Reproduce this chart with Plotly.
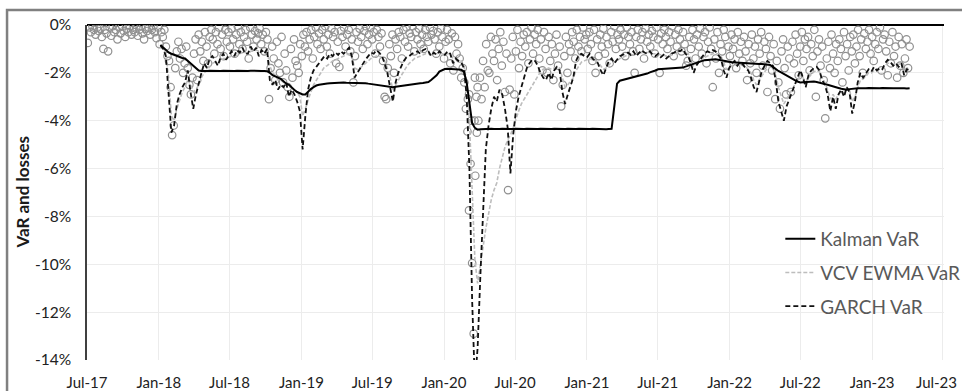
import pandas as pd
import plotly.graph_objects as go

# ---------------- data ----------------
var_start = "2018-01-05"          # weekly VaR series start
loss_start = "2017-07-03"         # daily-loss sample start (every 4 days)

kalman_var = [
 -0.83,-0.95,-1.05,-1.15,-1.2,-1.25,-1.3,-1.35,-1.38,-1.4,
 -1.5,-1.6,-1.72,-1.82,-1.9,-1.92,-1.93,-1.92,-1.91,-1.92,
 -1.93,-1.92,-1.92,-1.91,-1.92,-1.93,-1.92,-1.92,-1.91,-1.92,
 -1.93,-1.92,-1.92,-1.91,-1.92,-1.93,-1.92,-1.92,-1.92,-1.93,
 -2.0,-2.1,-2.15,-2.2,-2.25,-2.35,-2.45,-2.5,-2.62,-2.72,
 -2.8,-2.85,-2.9,-2.9,-2.78,-2.68,-2.6,-2.53,-2.5,-2.47,
 -2.45,-2.44,-2.43,-2.42,-2.41,-2.4,-2.4,-2.4,-2.41,-2.41,
 -2.42,-2.43,-2.43,-2.42,-2.42,-2.43,-2.45,-2.47,-2.48,-2.5,
 -2.52,-2.54,-2.56,-2.58,-2.6,-2.6,-2.58,-2.56,-2.55,-2.53,
 -2.52,-2.5,-2.48,-2.46,-2.45,-2.43,-2.42,-2.4,-2.38,-2.3,
 -2.2,-2.1,-1.95,-1.88,-1.84,-1.83,-1.83,-1.84,-1.85,-1.86,
 -1.87,-1.95,-2.4,-3.3,-4.1,-4.3,-4.38,-4.36,-4.35,-4.36,
 -4.35,-4.34,-4.35,-4.36,-4.35,-4.34,-4.35,-4.36,-4.35,-4.35,
 -4.34,-4.35,-4.36,-4.35,-4.34,-4.35,-4.35,-4.36,-4.35,-4.34,
 -4.35,-4.36,-4.35,-4.35,-4.34,-4.35,-4.36,-4.35,-4.35,-4.34,
 -4.35,-4.36,-4.35,-4.34,-4.35,-4.35,-4.36,-4.35,-4.34,-4.35,
 -4.36,-4.35,-4.35,-4.36,-4.35,-4.34,-3.4,-2.45,-2.33,-2.3,
 -2.26,-2.24,-2.21,-2.19,-2.17,-2.14,-2.11,-2.08,-2.03,-1.98,
 -1.95,-1.9,-1.85,-1.84,-1.83,-1.83,-1.82,-1.82,-1.81,-1.8,
 -1.8,-1.78,-1.74,-1.7,-1.66,-1.62,-1.57,-1.53,-1.5,-1.47,
 -1.46,-1.44,-1.43,-1.43,-1.45,-1.48,-1.5,-1.52,-1.54,-1.56,
 -1.57,-1.57,-1.58,-1.59,-1.6,-1.6,-1.61,-1.62,-1.62,-1.63,
 -1.63,-1.64,-1.66,-1.67,-1.75,-1.85,-1.92,-1.98,-2.05,-2.12,
 -2.18,-2.25,-2.3,-2.36,-2.4,-2.39,-2.38,-2.37,-2.36,-2.36,
 -2.38,-2.4,-2.43,-2.47,-2.5,-2.54,-2.57,-2.6,-2.63,-2.66,
 -2.68,-2.7,-2.68,-2.66,-2.65,-2.64,-2.64,-2.65,-2.64,-2.63,
 -2.64,-2.64,-2.65,-2.64,-2.63,-2.64,-2.64,-2.65,-2.64,-2.64,
 -2.63,-2.64,-2.64,-2.65,-2.64]

ewma_var = [
 -0.9,-1.0,-1.2,-2.2,-3.8,-4.0,-3.5,-3.1,-2.8,-2.6,
 -2.3,-2.5,-2.8,-2.7,-2.5,-2.2,-2.0,-1.9,-1.75,-1.6,
 -1.55,-1.6,-1.5,-1.4,-1.4,-1.35,-1.3,-1.3,-1.25,-1.2,
 -1.15,-1.15,-1.2,-1.1,-1.1,-1.05,-1.1,-1.1,-1.1,-1.05,
 -1.7,-2.0,-2.1,-2.3,-2.3,-2.4,-2.4,-2.6,-2.6,-2.7,
 -2.8,-3.0,-3.8,-3.5,-3.1,-2.8,-2.5,-2.3,-2.1,-1.9,
 -1.75,-1.7,-1.6,-1.5,-1.45,-1.4,-1.35,-1.3,-1.25,-1.2,
 -1.3,-1.8,-1.85,-1.8,-1.7,-1.6,-1.5,-1.4,-1.35,-1.3,
 -1.3,-1.35,-1.5,-1.8,-2.2,-2.7,-2.5,-2.3,-2.1,-1.9,
 -1.75,-1.6,-1.5,-1.4,-1.35,-1.3,-1.25,-1.2,-1.2,-1.25,
 -1.2,-1.2,-1.2,-1.2,-1.2,-1.2,-1.2,-1.4,-1.4,-1.45,
 -1.5,-1.7,-2.4,-4.0,-7.0,-9.8,-10.8,-10.0,-9.2,-8.5,
 -7.9,-7.3,-6.9,-6.6,-6.0,-5.5,-5.1,-4.8,-4.6,-4.3,
 -3.9,-3.6,-3.3,-3.1,-2.9,-2.75,-2.55,-2.3,-2.1,-1.95,
 -1.85,-1.8,-1.8,-1.85,-1.8,-1.75,-1.8,-2.2,-2.6,-2.5,
 -2.35,-2.2,-1.9,-1.7,-1.55,-1.5,-1.45,-1.4,-1.45,-1.5,
 -1.55,-1.7,-1.85,-1.8,-1.65,-1.55,-1.55,-1.5,-1.4,-1.35,
 -1.3,-1.25,-1.25,-1.2,-1.2,-1.2,-1.15,-1.15,-1.15,-1.15,
 -1.2,-1.2,-1.2,-1.25,-1.25,-1.3,-1.3,-1.25,-1.2,-1.15,
 -1.1,-1.1,-1.15,-1.2,-1.4,-1.7,-1.65,-1.55,-1.45,-1.35,
 -1.3,-1.25,-1.2,-1.2,-1.2,-1.3,-1.6,-1.85,-1.8,-1.7,
 -1.65,-1.7,-1.65,-1.7,-1.75,-1.85,-2.0,-2.3,-2.5,-2.3,
 -2.1,-1.95,-1.8,-1.75,-1.8,-2.1,-2.6,-3.0,-3.3,-3.1,
 -2.9,-2.7,-2.5,-2.3,-2.1,-2.2,-2.4,-2.2,-2.05,-1.95,
 -1.9,-1.95,-2.2,-2.4,-2.7,-3.1,-2.9,-3.1,-2.9,-2.75,
 -2.85,-2.65,-2.7,-3.2,-3.0,-2.6,-2.3,-2.25,-2.15,-2.0,
 -2.0,-1.9,-1.9,-1.85,-1.85,-1.7,-1.6,-1.6,-1.65,-1.6,
 -1.65,-1.6,-1.85,-1.8,-1.8]

garch_var = [
 -0.85,-1.0,-1.3,-2.8,-4.5,-4.2,-3.3,-2.9,-2.6,-2.4,
 -1.9,-2.8,-3.5,-2.9,-2.4,-2.0,-1.6,-1.8,-1.4,-1.3,
 -1.5,-1.7,-1.35,-1.2,-1.45,-1.25,-1.1,-1.3,-1.05,-1.15,
 -0.95,-1.2,-1.2,-0.9,-1.1,-0.95,-1.3,-1.05,-1.2,-1.0,
 -2.3,-2.5,-2.3,-2.7,-2.5,-2.6,-2.4,-3.0,-2.7,-2.9,
 -3.2,-3.6,-5.2,-3.8,-2.7,-2.2,-1.9,-1.75,-1.6,-1.45,
 -1.3,-1.4,-1.2,-1.3,-1.15,-1.25,-1.1,-1.2,-1.05,-0.95,
 -1.3,-2.2,-2.0,-1.8,-1.6,-1.45,-1.3,-1.15,-1.2,-1.05,
 -1.15,-1.3,-1.6,-2.0,-2.6,-3.2,-2.4,-2.0,-1.75,-1.5,
 -1.35,-1.3,-1.2,-1.15,-1.1,-1.2,-1.05,-1.0,-1.1,-1.3,
 -1.15,-1.25,-1.1,-1.2,-1.25,-1.1,-1.2,-1.6,-1.4,-1.5,
 -1.55,-1.8,-3.0,-6.0,-11.5,-15.0,-13.5,-10.5,-7.8,-5.2,
 -4.2,-3.5,-3.0,-3.2,-2.7,-2.9,-3.5,-4.3,-6.2,-4.6,
 -3.6,-3.0,-2.6,-2.2,-1.8,-1.6,-1.45,-1.5,-1.7,-2.0,
 -2.2,-2.3,-2.0,-2.3,-1.9,-1.75,-1.9,-2.8,-3.3,-2.9,
 -2.5,-2.2,-1.5,-1.25,-1.2,-1.3,-1.35,-1.2,-1.4,-1.5,
 -1.6,-1.9,-2.1,-1.8,-1.5,-1.4,-1.6,-1.45,-1.3,-1.25,
 -1.2,-1.15,-1.25,-1.1,-1.3,-1.15,-1.05,-1.15,-1.2,-1.1,
 -1.25,-1.3,-1.2,-1.35,-1.25,-1.4,-1.3,-1.2,-1.15,-1.05,
 -1.1,-1.0,-1.2,-1.3,-1.6,-2.0,-1.7,-1.5,-1.35,-1.2,
 -1.1,-1.15,-1.05,-1.1,-1.25,-1.4,-1.9,-2.2,-1.8,-1.6,
 -1.5,-1.7,-1.55,-1.65,-1.8,-1.9,-2.2,-2.6,-2.8,-2.3,
 -1.9,-1.7,-1.5,-1.6,-1.7,-2.3,-3.2,-3.6,-4.0,-3.4,
 -3.1,-2.8,-2.5,-2.2,-1.9,-2.2,-2.6,-2.1,-1.9,-1.8,
 -1.75,-1.9,-2.3,-2.5,-2.9,-3.6,-3.0,-3.5,-2.9,-2.7,
 -3.0,-2.6,-2.8,-3.7,-3.2,-2.4,-2.0,-2.2,-2.0,-1.85,
 -1.95,-1.75,-1.9,-1.8,-1.85,-1.6,-1.45,-1.55,-1.7,-1.6,
 -1.75,-1.6,-2.1,-1.85,-1.9]

daily_losses = [
 -0.75,-0.1,-0.3,-0.05,-0.2,-0.4,-0.1,-0.25,-0.15,-0.5,
 -1.0,-0.2,-0.35,-1.1,-0.1,-0.45,-0.05,-0.3,-0.2,-0.6,
 -0.1,-0.35,-0.05,-0.25,-0.5,-0.15,-0.3,-0.05,-0.4,-0.2,
 -0.3,-0.1,-0.45,-0.2,-0.05,-0.35,-0.6,-0.15,-0.25,-0.1,
 -0.4,-0.2,-0.05,-0.3,-0.55,-0.1,-0.8,-0.3,-0.5,-0.2,
 -0.9,-1.3,-1.5,-2.6,-4.6,-4.2,-1.8,-1.1,-0.7,-1.4,
 -1.0,-2.0,-1.6,-0.9,-1.8,-2.5,-2.9,-2.2,-1.2,-0.6,
 -2.3,-0.4,-1.1,-0.7,-1.5,-0.3,-0.9,-1.6,-0.5,-0.2,
 -0.6,-1.2,-0.3,-0.8,-0.1,-1.0,-0.4,-1.3,-0.2,-0.7,
 -0.3,-0.9,-0.15,-0.6,-1.2,-0.4,-0.05,-0.8,-0.3,-1.0,
 -0.5,-0.2,-0.7,-1.4,-0.1,-0.4,-0.9,-0.25,-0.6,-0.35,
 -0.15,-0.8,-0.4,-1.1,-0.3,-0.6,-3.1,-1.8,-0.9,-1.4,
 -2.3,-0.7,-1.6,-2.0,-0.5,-2.4,-1.2,-1.9,-2.6,-3.0,
 -1.0,-2.2,-0.6,-1.5,-1.7,-2.0,-0.8,-1.3,-0.4,-0.9,
 -0.3,-1.1,-0.6,-0.2,-1.4,-0.5,-0.1,-0.8,-0.35,-1.0,
 -0.2,-0.6,-0.05,-0.9,-0.4,-1.2,-0.15,-0.5,-0.3,-1.6,
 -0.7,-1.75,-0.25,-0.5,-0.1,-0.9,-0.4,-0.2,-1.1,-0.6,
 -2.4,-1.3,-0.3,-0.7,-0.15,-0.5,-1.0,-0.25,-0.05,-0.8,
 -0.4,-0.1,-0.6,-0.3,-1.2,-0.2,-0.5,-0.9,-0.35,-1.5,
 -3.0,-3.1,-1.8,-0.8,-1.3,-0.4,-2.0,-0.6,-1.0,-0.3,
 -0.5,-1.4,-0.2,-0.7,-0.1,-0.9,-0.35,-0.5,-0.05,-1.1,
 -0.3,-0.6,-0.15,-0.8,-0.4,-1.0,-0.2,-0.5,-0.7,-0.1,
 -0.4,-0.25,-0.6,-1.2,-0.3,-0.9,-0.15,-0.5,-1.4,-0.7,
 -0.2,-0.6,-1.6,-0.35,-1.9,-0.5,-1.2,-0.8,-1.4,-2.2,
 -1.8,-2.4,-3.5,-4.45,-7.75,-5.8,-9.95,-12.9,-6.3,-4.5,
 -4.0,-2.2,-3.1,-1.5,-2.6,-0.8,-1.9,-2.0,-0.5,-1.2,
 -1.5,-0.6,-2.3,-1.0,-0.3,-1.7,-0.7,-2.8,-1.2,-6.9,
 -2.7,-1.4,-0.5,-2.9,-1.1,-0.2,-1.8,-0.7,-1.3,-0.4,
 -0.9,-0.3,-1.6,-0.6,-0.1,-1.2,-0.4,-0.8,-0.2,-1.4,
 -0.6,-1.9,-0.3,-1.0,-2.0,-0.5,-1.5,-0.8,-2.3,-1.2,
 -0.4,-1.7,-0.9,-3.4,-2.5,-1.3,-0.5,-2.0,-0.8,-1.1,
 -0.3,-0.7,-1.4,-0.2,-0.9,-0.5,-1.1,-0.1,-0.6,-0.4,
 -1.0,-0.3,-0.8,-1.5,-0.2,-2.0,-0.6,-1.3,-0.4,-0.9,
 -0.15,-1.2,-0.5,-0.8,-1.6,-0.3,-0.7,-0.05,-1.0,-0.4,
 -0.6,-0.2,-0.9,-0.4,-1.3,-0.1,-0.5,-0.8,-0.3,-1.1,
 -2.0,-0.5,-0.2,-1.0,-0.6,-0.3,-1.4,-0.15,-0.7,-0.4,
 -0.9,-0.25,-0.5,-1.2,-0.1,-0.6,-2.0,-0.35,-0.8,-0.2,
 -0.5,-1.0,-0.3,-0.7,-0.05,-1.3,-0.4,-0.9,-0.2,-0.6,
 -1.1,-0.3,-0.8,-1.7,-1.5,-0.5,-1.0,-0.2,-0.6,-1.4,
 -0.4,-0.9,-0.15,-1.2,-0.5,-0.3,-1.6,-0.7,-0.1,-1.0,
 -2.6,-0.6,-1.4,-0.3,-2.0,-0.8,-1.1,-0.2,-0.5,-1.7,
 -0.9,-1.3,-0.4,-1.0,-0.6,-1.8,-0.3,-1.2,-0.7,-1.5,
 -0.5,-1.1,-2.3,-0.8,-1.6,-0.4,-1.4,-0.9,-2.0,-0.6,
 -1.2,-0.3,-1.7,-0.7,-1.0,-2.8,-0.5,-1.3,-1.9,-0.8,
 -3.1,-1.5,-2.4,-3.5,-1.1,-0.6,-1.8,-2.9,-0.9,-1.4,
 -2.8,-0.7,-1.6,-0.4,-1.2,-2.1,-0.9,-0.3,-1.5,-0.6,
 -1.0,-0.5,-1.9,-0.8,-1.3,-0.2,-3.0,-1.1,-0.6,-1.7,
 -0.9,-2.3,-3.9,-1.4,-0.7,-1.8,-0.4,-1.2,-2.0,-0.8,
 -1.5,-0.6,-1.0,-2.4,-0.3,-1.3,-0.8,-1.9,-0.5,-1.1,
 -0.4,-1.6,-0.9,-0.2,-1.3,-0.6,-2.0,-0.35,-1.0,-0.7,
 -0.2,-1.2,-0.5,-1.5,-0.8,-0.3,-1.0,-0.1,-1.9,-0.6,
 -0.4,-1.1,-2.1,-0.7,-1.6,-0.3,-1.3,-0.9,-2.2,-0.5,
 -1.7,-0.8,-2.0,-1.4,-0.6,-1.8,-0.9]

extra_loss_dates = ["2020-03-02", "2020-03-05", "2020-03-11", "2020-03-19",
                    "2020-03-20", "2020-03-24", "2020-03-27"]
extra_loss_values = [-3.1, -2.9, -4.0, -4.0, -2.2, -3.0, -2.6]

x_tick_dates = ["2017-07-01", "2018-01-01", "2018-07-01", "2019-01-01",
                "2019-07-01", "2020-01-01", "2020-07-01", "2021-01-01",
                "2021-07-01", "2022-01-01", "2022-07-01", "2023-01-01",
                "2023-07-01"]
x_tick_labels = ["Jul-17", "Jan-18", "Jul-18", "Jan-19", "Jul-19", "Jan-20",
                 "Jul-20", "Jan-21", "Jul-21", "Jan-22", "Jul-22", "Jan-23",
                 "Jul-23"]
y_tick_values = [0, -2, -4, -6, -8, -10, -12, -14]
y_tick_labels = ["0%", "-2%", "-4%", "-6%", "-8%", "-10%", "-12%", "-14%"]

# ---------------- figure ----------------
def weekly(vals):
    return pd.date_range(var_start, periods=len(vals), freq="7D")

loss_dates = list(pd.date_range(loss_start, periods=len(daily_losses), freq="4D")) + \
             list(pd.to_datetime(extra_loss_dates))
loss_vals = daily_losses + extra_loss_values

fig = go.Figure()
fig.add_trace(go.Scatter(
    x=loss_dates, y=loss_vals, mode="markers", showlegend=False, cliponaxis=True,
    marker=dict(symbol="circle-open", size=7.5, color="#909090", line=dict(width=1.2))))
fig.add_trace(go.Scatter(
    x=weekly(ewma_var), y=ewma_var, mode="lines", name="VCV EWMA VaR",
    legendgroup="b", legendrank=2,
    line=dict(color="#bdbdbd", width=1.6, dash="4px,2px")))
fig.add_trace(go.Scatter(
    x=weekly(garch_var), y=garch_var, mode="lines", name="GARCH VaR",
    legendgroup="c", legendrank=3,
    line=dict(color="#111111", width=1.8, dash="5px,3px")))
fig.add_trace(go.Scatter(
    x=weekly(kalman_var), y=kalman_var, mode="lines", name="Kalman VaR",
    legendgroup="a", legendrank=1,
    line=dict(color="#000000", width=2)))

font_family = "Lato, 'Open Sans', sans-serif"
tick_font = dict(size=15, color="#222222", family=font_family)

# last x label (at the right edge) is placed as an annotation so it stays inside
shown_x_labels = x_tick_labels[:-1] + [""]

fig.update_layout(
    width=962, height=391,
    margin=dict(l=87, r=18, t=25, b=31, autoexpand=False),
    paper_bgcolor="white", plot_bgcolor="white",
    font=dict(family=font_family, size=15, color="#3a3a3a"),
    legend=dict(x=0.809, y=0.418, xanchor="left", yanchor="top",
                bgcolor="rgba(0,0,0,0)", tracegroupgap=6, traceorder="grouped",
                font=dict(size=19, color="#595959", family=font_family)),
    xaxis=dict(type="date", range=["2017-07-01", "2023-07-04"], automargin=False,
               tickvals=x_tick_dates, ticktext=shown_x_labels,
               showgrid=True, gridcolor="#ececec", gridwidth=1,
               showline=False, zeroline=False, ticks="",
               ticklabelstandoff=12, tickfont=tick_font),
    yaxis=dict(range=[-14, 0], tickvals=y_tick_values, ticktext=y_tick_labels,
               automargin=False, ticklabeloverflow="allow",
               showgrid=True, gridcolor="#ececec", gridwidth=1,
               showline=True, linecolor="#404040", linewidth=1.5,
               zeroline=True, zerolinecolor="#000000", zerolinewidth=1.5,
               ticks="", ticklabelstandoff=11,
               tickfont=dict(size=15.5, color="#222222")),
    annotations=[
        dict(text="<b>VaR and losses</b>", textangle=-90,
             xref="paper", yref="paper", x=-0.0758, y=0.5,
             xanchor="center", yanchor="middle", showarrow=False,
             font=dict(size=17, color="#1a1a1a")),
        dict(text=x_tick_labels[-1], xref="paper", yref="paper",
             x=1.0175, y=-0.066, xanchor="right", yanchor="middle",
             showarrow=False, font=tick_font),
    ],
    shapes=[dict(type="rect", xref="paper", yref="paper",
                 x0=-0.0933, x1=1.05, y0=-0.15, y1=1.0448,
                 line=dict(color="#808080", width=2.5), layer="above")],
)

fig.write_html("out.html", config={"displayModeBar": False},
               post_script="document.body.style.margin='0';"
                           "document.body.style.overflow='hidden';")
